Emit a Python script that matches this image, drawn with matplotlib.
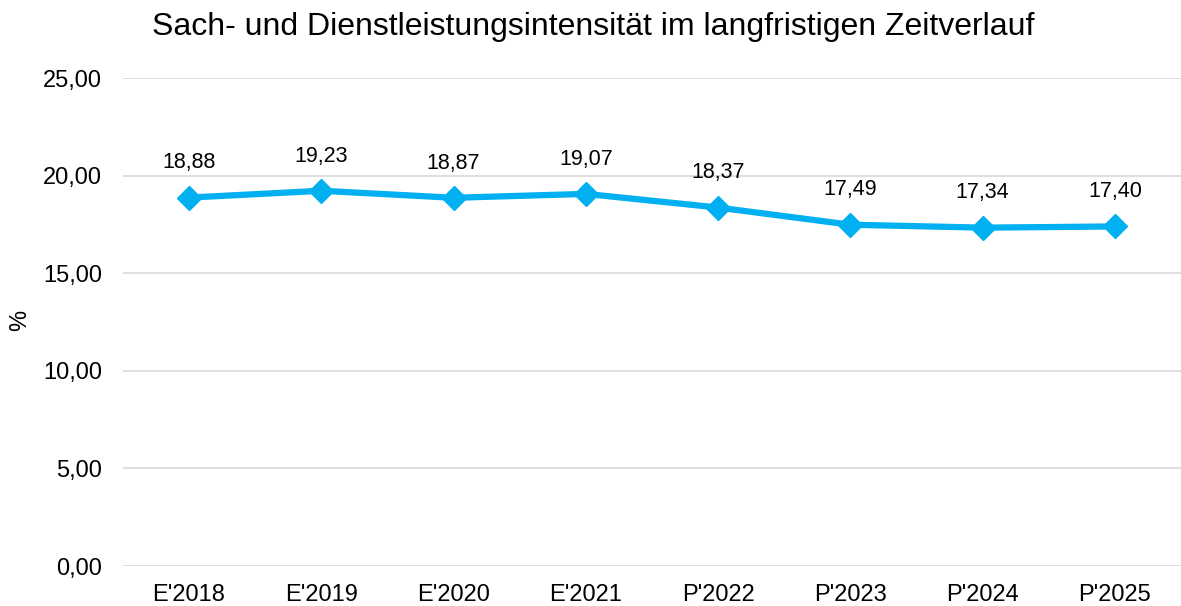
import matplotlib.pyplot as plt

plt.rcParams['font.family'] = ['Liberation Sans', 'DejaVu Sans']

# data
years = ["E'2018", "E'2019", "E'2020", "E'2021", "P'2022", "P'2023", "P'2024", "P'2025"]
values = [18.88, 19.23, 18.87, 19.07, 18.37, 17.49, 17.34, 17.40]
y_ticks = [0, 5, 10, 15, 20, 25]

LINE_COLOR = "#00B0F0"
GRID_COLOR = "#D9D9D9"

fig = plt.figure(figsize=(11.81, 6.06), dpi=100)
ax = fig.add_axes([0.104, 0.066, 0.896, 0.805])

x = list(range(len(years)))
ax.plot(x, values, color=LINE_COLOR, linewidth=4.5, marker="D",
        markersize=12, markerfacecolor=LINE_COLOR, markeredgecolor=LINE_COLOR,
        zorder=3, solid_capstyle="round")

for xi, v in zip(x, values):
    ax.annotate(f"{v:.2f}".replace(".", ","), (xi, v), xytext=(0, 25),
                textcoords="offset points", ha="center", va="center",
                fontsize=15.5)

ax.set_xlim(-0.5, len(years) - 0.5)
ax.set_ylim(0, 25)
ax.set_yticks(y_ticks)
ax.set_yticklabels([f"{t:.2f}".replace(".", ",") for t in y_ticks])
ax.set_xticks(x)
ax.set_xticklabels(years)
ax.tick_params(axis="y", length=0, pad=15, labelsize=17)
ax.tick_params(axis="x", length=0, pad=13, labelsize=17)

ax.grid(axis="y", color=GRID_COLOR, linewidth=1.2)
ax.set_axisbelow(True)
for s in ax.spines.values():
    s.set_visible(False)

fig.text(20 / 1181, 1 - 320 / 606, "%", rotation=90, ha="center", va="center",
         fontsize=17)
fig.suptitle("Sach- und Dienstleistungsintensität im langfristigen Zeitverlauf",
             x=0.5025, y=0.955, va="center", fontsize=23)

fig.savefig("out.png", dpi=100)
